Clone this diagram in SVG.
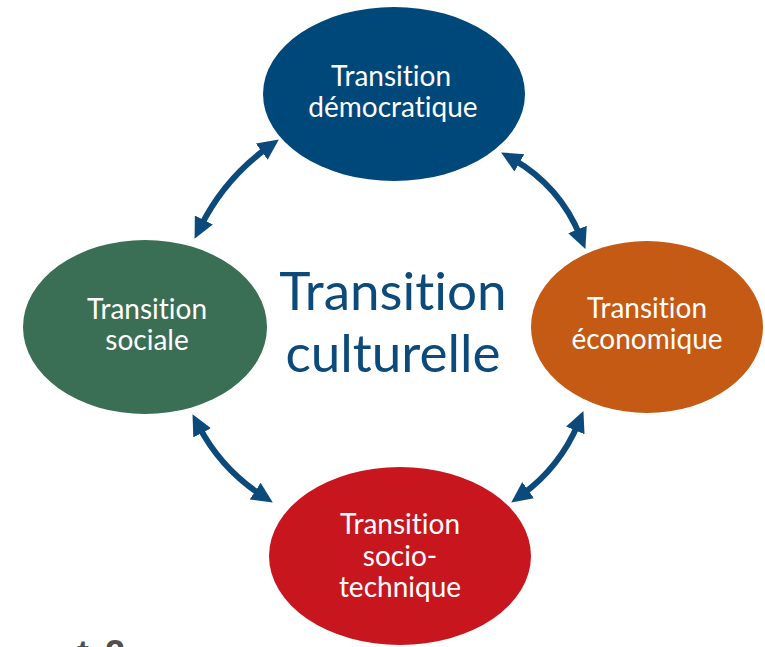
<svg xmlns="http://www.w3.org/2000/svg" width="765" height="647" viewBox="0 0 765 647">
  <style>
    text { font-variant-ligatures: none; font-feature-settings: "liga" 0, "clig" 0; }
    .lbl { font-family: Lato, "Open Sans", "Liberation Sans", sans-serif; font-size: 28px; fill: #ffffff; text-anchor: middle; }
    .center { font-family: Lato, "Open Sans", "Liberation Sans", sans-serif; font-size: 53px; fill: #0b4a7b; text-anchor: middle; }
    .arrow { fill: none; stroke: #0b4a7b; stroke-width: 6; marker-start: url(#ah); marker-end: url(#ah); }
    .frag { font-family: "Liberation Sans", Arial, sans-serif; font-size: 36px; font-weight: bold; fill: #505050; }
  </style>
  <defs>
    <marker id="ah" markerUnits="userSpaceOnUse" markerWidth="22" markerHeight="22" refX="8" refY="10" orient="auto-start-reverse" viewBox="0 0 22 22">
      <path d="M0,0 L21,10 L0,20 z" fill="#0b4a7b"/>
    </marker>
  </defs>
  <rect width="765" height="647" fill="#ffffff"/>

  <g id="connectors">
    <path class="arrow" d="M200.3,227.2 Q224,179 268.3,147"/>
    <path class="arrow" d="M512.4,158.9 Q560,186 580.5,236.9"/>
    <path class="arrow" d="M198.5,425.7 Q221,469 261.9,495.5"/>
    <path class="arrow" d="M578.4,423.1 Q560,467 521.7,494.9"/>
  </g>

  <g id="node-democratique">
    <ellipse cx="394" cy="94" rx="131" ry="87" fill="#00477a"/>
    <text class="lbl" x="391" y="86">Transition</text>
    <text class="lbl" x="393" y="117">démocratique</text>
  </g>

  <g id="node-sociale">
    <ellipse cx="145" cy="327" rx="122" ry="87" fill="#3a6e55"/>
    <text class="lbl" x="147" y="319">Transition</text>
    <text class="lbl" x="147" y="350">sociale</text>
  </g>

  <g id="node-economique">
    <ellipse cx="647" cy="327" rx="116" ry="86" fill="#c45a13"/>
    <text class="lbl" x="647" y="318">Transition</text>
    <text class="lbl" x="647" y="349">économique</text>
  </g>

  <g id="node-sociotechnique">
    <ellipse cx="400" cy="556" rx="131" ry="89" fill="#c8161f"/>
    <text class="lbl" x="400" y="534">Transition</text>
    <text class="lbl" x="400" y="566">socio-</text>
    <text class="lbl" x="400" y="597">technique</text>
  </g>

  <g id="center-label">
    <text class="center" x="393" y="310">Transition</text>
    <text class="center" x="393" y="372">culturelle</text>
  </g>

  <g id="fragment">
    <text class="frag" x="77" y="666">t</text>
    <text class="frag" x="105" y="666">2</text>
  </g>
</svg>
